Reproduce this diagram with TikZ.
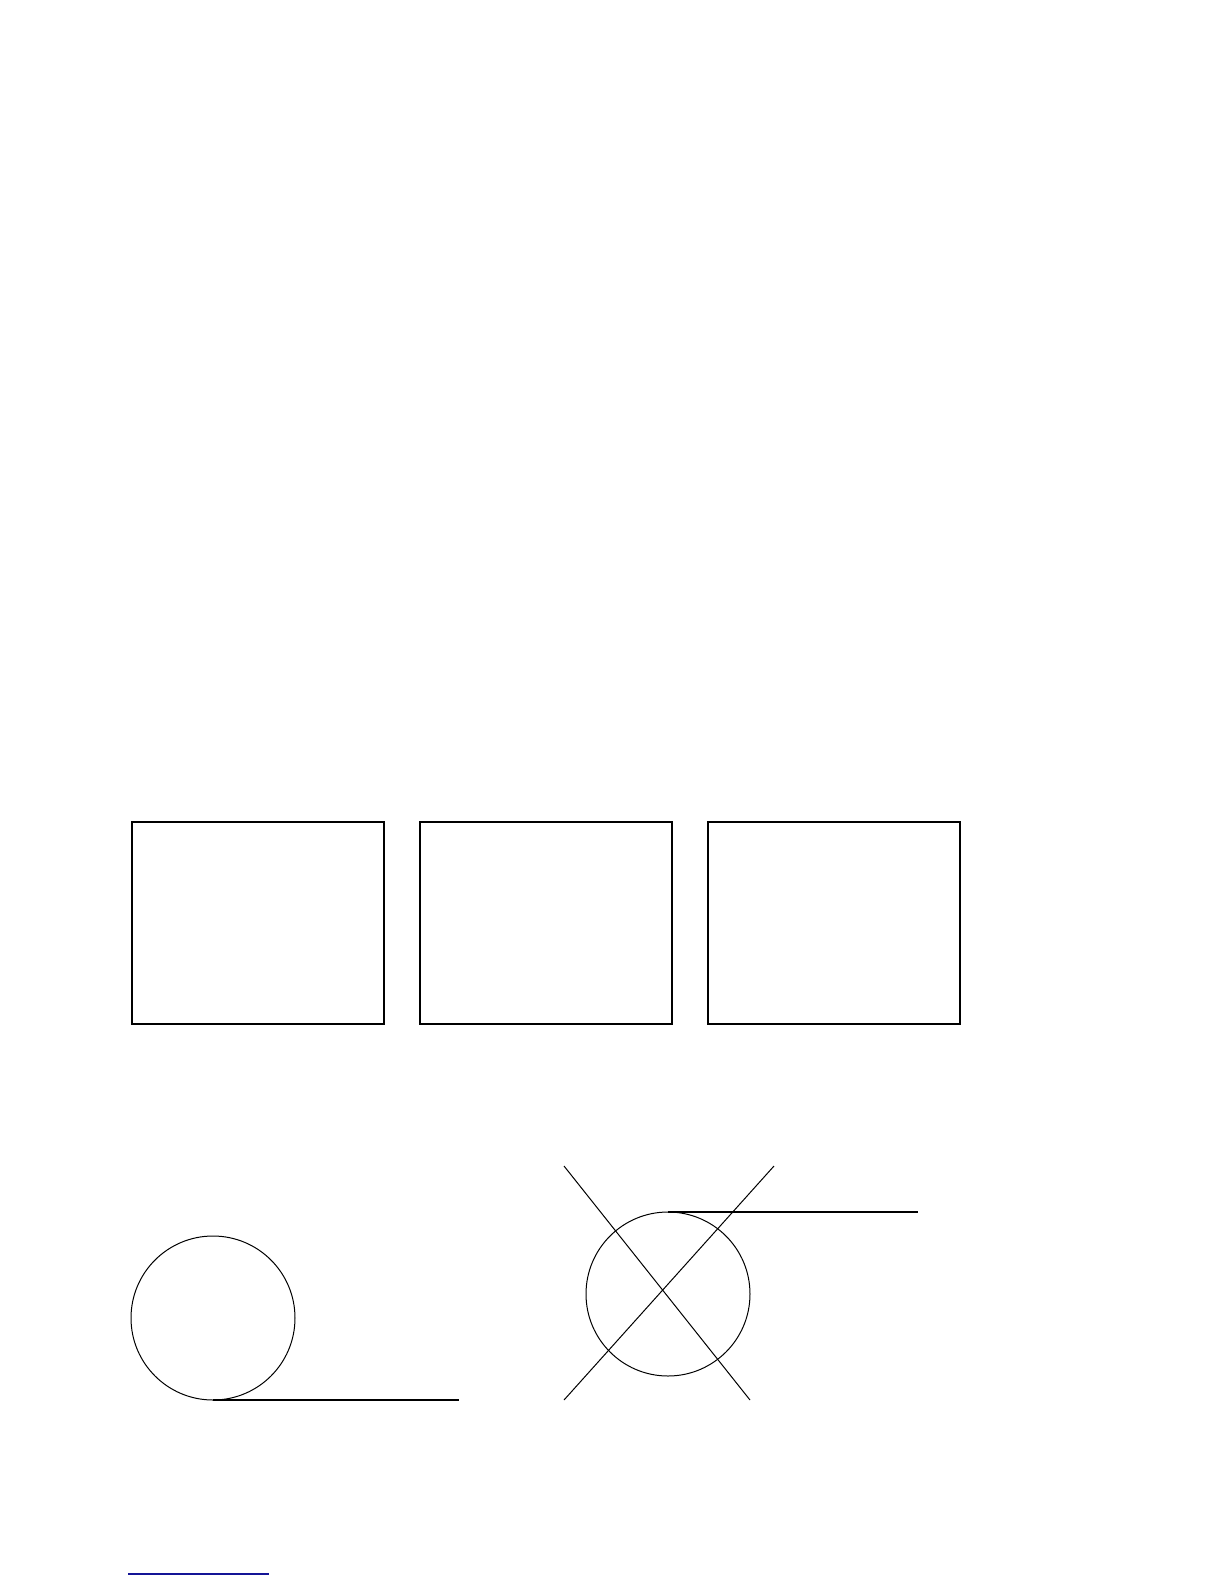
\documentclass[tikz,border=0pt]{standalone}
\begin{document}
\begin{tikzpicture}[x=0.5pt,y=-0.5pt,
  panel/.style={draw=black,line width=0.55pt,inner sep=0pt,minimum width=126pt,minimum height=101pt},
  ring/.style={draw=black,line width=0.5pt,circle,inner sep=0pt,minimum size=82pt,outer sep=0pt},
  stroke/.style={draw=black,line width=0.5pt}]
\useasboundingbox (0,0) rectangle (1224,1584);
% three boxes
\node[panel] (b1) at (258,923) {};
\node[panel] (b2) at (546,923) {};
\node[panel] (b3) at (834,923) {};
% left circle with tangent line at bottom
\node[ring] (c1) at (213,1318) {};
\coordinate (e1) at (459,1400);
\draw[stroke,line width=0.6pt] (c1.south) -- (c1.south -| e1);
% right circle with tangent line at top and crossing lines
\node[ring] (c2) at (668,1294) {};
\coordinate (e2) at (918,1212);
\draw[stroke,line width=0.6pt] (c2.north) -- (c2.north -| e2);
\coordinate (a1) at (564,1166);
\coordinate (a2) at (750,1400);
\coordinate (d1) at (774,1166);
\coordinate (d2) at (564,1400);
\draw[stroke] (a1) -- (a2);
\draw[stroke] (d1) -- (d2);
% blue footnote rule
\coordinate (f1) at (128,1574);
\coordinate (f2) at (269,1574);
\draw[line width=0.6pt,draw={rgb,255:red,20;green,20;blue,150}] (f1) -- (f2);
\end{tikzpicture}
\end{document}
